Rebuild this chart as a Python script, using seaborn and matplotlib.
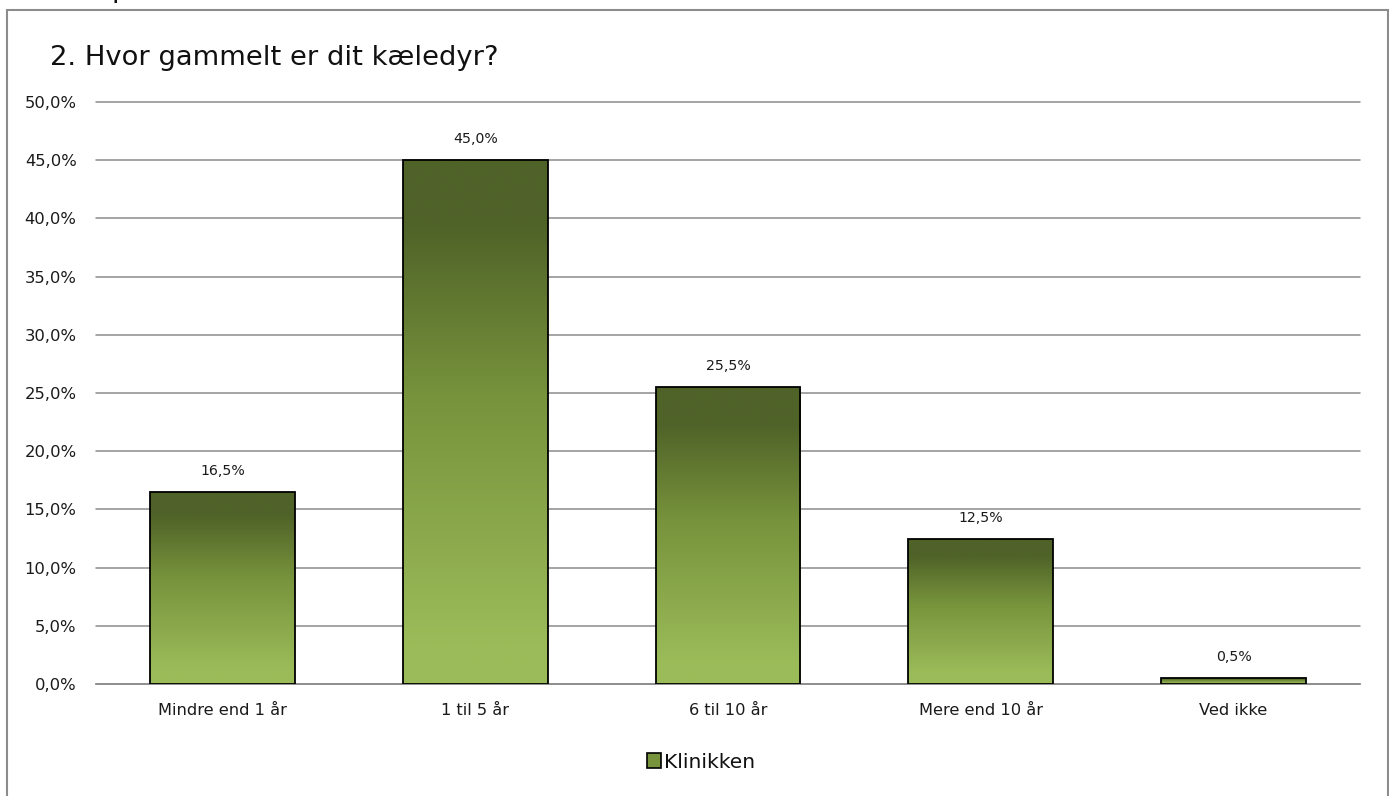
import numpy as np
import pandas as pd
import matplotlib
matplotlib.use("Agg")
import matplotlib.pyplot as plt
from matplotlib.colors import LinearSegmentedColormap
from matplotlib.patches import Rectangle, Patch
from matplotlib.ticker import FuncFormatter, MultipleLocator
import seaborn as sns

# Survey answers: age of the pet
categories = ["Mindre end 1 år", "1 til 5 år", "6 til 10 år", "Mere end 10 år", "Ved ikke"]
values = [16.5, 45.0, 25.5, 12.5, 0.5]
series_name = "Klinikken"
title = "2. Hvor gammelt er dit kæledyr?"

sns.set_theme(style="white")
plt.rcParams["font.family"] = ["DejaVu Sans"]

W, H = 1389, 796
fig = plt.figure(figsize=(W / 100, H / 100), dpi=100)
ax = fig.add_axes([96 / W, 1 - 684 / H, (1360 - 96) / W, (684 - 102) / H])

df = pd.DataFrame({"kategori": categories, "andel": values})
sns.barplot(data=df, x="kategori", y="andel", color="#77933C", width=0.572,
            edgecolor="black", linewidth=1.3, ax=ax, zorder=3)

# vertical gradient fill for each bar (light green at the base, dark olive on top)
grad_cmap = LinearSegmentedColormap.from_list(
    "olive", [(0.0, "#9BBB59"), (0.08, "#9BBB59"), (0.55, "#77933C"),
              (0.88, "#4F6228"), (1.0, "#4F6228")])
grad = np.linspace(0, 1, 256).reshape(-1, 1)
for p in list(ax.patches):
    x0, w, h = p.get_x(), p.get_width(), p.get_height()
    im = ax.imshow(grad, extent=[x0, x0 + w, 0, h], origin="lower", aspect="auto",
                   cmap=grad_cmap, zorder=2.9, interpolation="bilinear")
    im.set_clip_path(p)
    p.set_facecolor("none")

ax.set_xlim(-0.5, len(categories) - 0.5)
ax.set_ylim(0, 50)
ax.set_aspect("auto")

# value labels above the bars
for i, v in enumerate(values):
    ax.annotate(f"{v:.1f}%".replace(".", ","), (i, v), xytext=(0, 15),
                textcoords="offset points", ha="center", va="center",
                fontsize=10.2, color="#1a1a1a")

ax.yaxis.set_major_locator(MultipleLocator(5))
ax.yaxis.set_major_formatter(FuncFormatter(lambda y, _: f"{y:.1f}%".replace(".", ",")))
ax.grid(axis="y", color="#8c8c8c", linewidth=1.1, zorder=0)
ax.set_axisbelow(True)
for gl in ax.get_ygridlines():
    gl.set_clip_on(False)
for s in ["left", "right", "top"]:
    ax.spines[s].set_visible(False)
ax.spines["bottom"].set_color("#8c8c8c")
ax.spines["bottom"].set_linewidth(1.2)
ax.tick_params(axis="y", length=0, pad=14, labelsize=11.8, labelcolor="#1a1a1a")
ax.tick_params(axis="x", length=0, pad=14, labelsize=11.7, labelcolor="#1a1a1a")
ax.set_xlabel("")
ax.set_ylabel("")

fig.text(50 / W, 1 - 58 / H, title, fontsize=19.7, ha="left", va="center", color="#111111")

# legend
handle = Patch(facecolor="#77933C", edgecolor="black", linewidth=1.2, label=series_name)
fig.legend(handles=[handle], loc="center", bbox_to_anchor=(701 / W, 1 - 762 / H),
           frameon=False, fontsize=14.6, handlelength=0.7, handleheight=0.7,
           handletextpad=0.15, labelcolor="#111111")

# chart frame
fig.patches.append(Rectangle((7 / W, -0.05), (1388 - 7) / W, 1.05 - 10 / H,
                             transform=fig.transFigure, fill=False,
                             edgecolor="#8c8c8c", linewidth=1.5))
# clipped line of text above the frame
fig.text(112 / W, 1 + 3 / H, "p", fontsize=20, ha="left", va="baseline", color="#111111")

fig.savefig("out.png", dpi=100)
